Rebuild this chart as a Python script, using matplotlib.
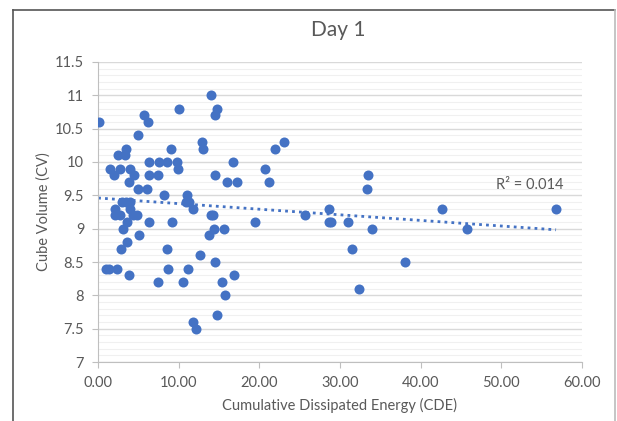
#!/usr/bin/env python3
# -*- coding:utf-8 -*-

import numpy as np
import matplotlib
matplotlib.use('Agg')
import matplotlib.pyplot as plt
from matplotlib.lines import Line2D
from matplotlib.ticker import MultipleLocator, FormatStrFormatter

# data (x = CDE, y = CV)
cde = [0.1, 14.0, 10.0, 5.7, 6.2, 14.8, 14.5, 5.0, 3.4, 2.5, 3.3, 9.0, 12.9, 13.0,
       6.3, 7.5, 8.6, 9.8, 9.9, 1.5, 2.7, 2.0, 4.0, 4.4, 6.3, 7.4, 3.8, 5.0, 6.1,
       8.2, 14.5, 11.0, 10.9, 11.3, 11.8, 3.0, 3.5, 4.0, 2.1, 2.1, 2.7, 4.0, 4.3,
       4.8, 3.6, 3.1, 6.3, 9.2, 14.0, 14.3, 14.4, 15.6, 13.8, 5.1, 3.6, 2.9, 8.6,
       1.0, 1.3, 2.4, 8.7, 11.2, 3.8, 7.4, 10.5, 11.8, 12.2, 14.5, 14.8, 12.7,
       15.4, 16.8, 15.7, 23.1, 22.0, 16.7, 20.7, 16.0, 17.2, 21.2, 19.5, 33.5,
       33.4, 25.7, 28.7, 28.6, 28.9, 31.0, 34.0, 31.5, 38.1, 32.3, 42.7, 45.7, 56.8]
cv = [10.6, 11.0, 10.8, 10.7, 10.6, 10.8, 10.7, 10.4, 10.2, 10.1, 10.1, 10.2, 10.3, 10.2,
      10.0, 10.0, 10.0, 10.0, 9.9, 9.9, 9.9, 9.8, 9.9, 9.8, 9.8, 9.8, 9.7, 9.6, 9.6,
      9.5, 9.8, 9.5, 9.4, 9.4, 9.3, 9.4, 9.4, 9.4, 9.3, 9.2, 9.2, 9.3, 9.2,
      9.2, 9.1, 9.0, 9.1, 9.1, 9.2, 9.2, 9.0, 9.0, 8.9, 8.9, 8.8, 8.7, 8.7,
      8.4, 8.4, 8.4, 8.4, 8.4, 8.3, 8.2, 8.2, 7.6, 7.5, 8.5, 7.7, 8.6,
      8.2, 8.3, 8.0, 10.3, 10.2, 10.0, 9.9, 9.7, 9.7, 9.7, 9.1, 9.8,
      9.6, 9.2, 9.3, 9.1, 9.1, 9.1, 9.0, 8.7, 8.5, 8.1, 9.3, 9.0, 9.3]

blue = '#4472C4'
grey = '#595959'

plt.rcParams['font.family'] = ['Lato', 'DejaVu Sans']

fig = plt.figure(figsize=(6.17, 4.21), dpi=100)
ax = fig.add_axes([0.159, 0.140, 0.784, 0.713])

ax.scatter(cde, cv, s=52, color=blue, zorder=3, linewidths=0)

# linear trendline
x = np.array(cde)
y = np.array(cv)
k, b = np.polyfit(x, y, 1)
xs = np.array([0, x.max()])
ax.plot(xs, k * xs + b, linestyle=(0, (1, 1.5)), color=blue, lw=2, zorder=2)
ax.text(53.5, 9.65, 'R² = 0.014', color=grey, fontsize=10.5, ha='center', va='center')

ax.set_xlim(0, 60)
ax.set_ylim(7, 11.5)
ax.xaxis.set_major_locator(MultipleLocator(10))
ax.xaxis.set_major_formatter(FormatStrFormatter('%.2f'))
ax.yaxis.set_minor_locator(MultipleLocator(0.1))
ax.set_yticks([7, 7.5, 8, 8.5, 9, 9.5, 10, 10.5, 11, 11.5])
ax.set_yticklabels(['7', '7.5', '8', '8.5', '9', '9.5', '10', '10.5', '11', '11.5'])

ax.grid(axis='y', which='major', color='#d9d9d9', lw=1, zorder=0)
ax.grid(axis='y', which='minor', color='#f0f0f0', lw=0.8, zorder=0)
ax.set_axisbelow(True)

for s in ['top', 'right']:
    ax.spines[s].set_visible(False)
for s in ['left', 'bottom']:
    ax.spines[s].set_color('#bfbfbf')
ax.tick_params(which='major', colors='#bfbfbf', labelcolor=grey, labelsize=10.5, length=4)
ax.tick_params(axis='y', which='major', pad=6)
ax.tick_params(axis='x', which='major', pad=6)
ax.tick_params(axis='y', which='minor', length=0)

ax.set_xlabel('Cumulative Dissipated Energy (CDE)', color=grey, fontsize=10.5, labelpad=6)
ax.set_ylabel('Cube Volume (CV)', color=grey, fontsize=10.5, labelpad=3)
fig.text(0.548, 0.928, 'Day 1', color=grey, fontsize=15, ha='center', va='center')

# outer chart border
fig.add_artist(Line2D([13 / 617, 13 / 617], [0, 1 - 10 / 421], color='#555555', lw=1.2))
fig.add_artist(Line2D([13 / 617, 615 / 617], [1 - 10 / 421, 1 - 10 / 421], color='#555555', lw=1.2))
fig.add_artist(Line2D([615 / 617, 615 / 617], [0, 1 - 10 / 421], color='#bbbbbb', lw=1.2))

fig.savefig('out.png', dpi=100)
